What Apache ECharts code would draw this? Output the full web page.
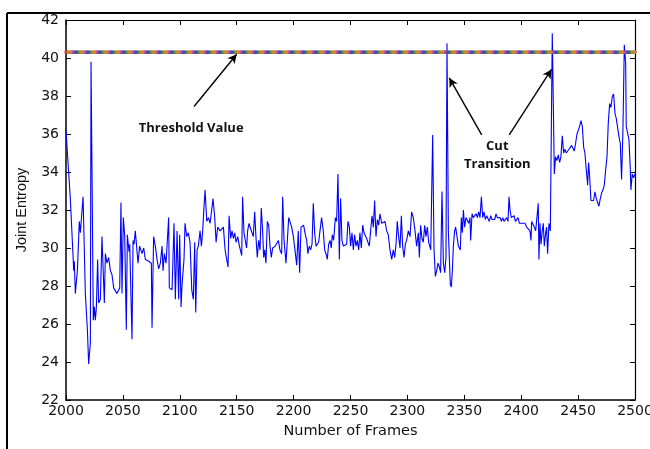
<!DOCTYPE html>
<html>
<head>
<meta charset="utf-8">
<script src="https://cdn.jsdelivr.net/npm/echarts@6/dist/echarts.min.js"></script>
<style>
html,body{margin:0;padding:0;background:#fff;}
#chart{width:650px;height:449px;}
</style>
</head>
<body>
<div id="chart"></div>
<script>
// ---- data ----
const frames = [
2000.0,2003.8,2005.3,2006.8,2007.3,2008.2,2010.0,2011.7,2012.6,2015.0,2017.0,2018.8,2019.9,2021.4,2022.0,2024.0,2024.9,2025.8,2026.7,2027.8,
2028.7,2030.2,2031.6,2033.7,2034.6,2036.0,2037.5,2039.0,2040.4,2041.9,2043.4,2044.8,2046.3,2047.2,2048.3,2049.2,2050.4,2051.6,2053.0,2053.9,
2055.4,2056.0,2058.0,2058.9,2059.8,2060.9,2063.3,2064.7,2066.8,2068.3,2069.7,2072.7,2074.1,2075.0,2075.6,2077.0,2078.5,2080.0,2081.4,2082.9,
2084.4,2085.3,2086.4,2087.9,2089.1,2090.2,2090.8,2093.2,2093.7,2094.9,2096.1,2097.6,2099.0,2099.9,2101.1,
2102.0,2103.7,2104.6,2106.1,2107.5,2109.0,2110.5,2111.9,2113.1,2114.0,2115.2,2116.3,2117.8,2119.0,2120.1,2121.0,2122.2,2123.7,2125.1,2126.6,
2128.0,2129.2,2130.7,2131.9,2133.3,2134.5,2135.4,2136.8,2138.3,2139.8,2141.2,2142.4,2143.3,2144.7,2145.9,2147.1,2148.3,2149.4,2150.9,2152.4,
2152.9,2154.4,2155.2,2156.4,2157.6,2158.7,2159.6,2160.8,2162.3,2163.7,2164.6,2165.8,2166.9,2168.1,2169.3,2170.5,2171.6,2172.8,2173.7,2174.6,
2175.7,2176.9,2178.1,2179.3,2180.4,2181.6,2182.8,2183.9,2185.1,2186.6,2188.0,2189.5,2190.4,2191.6,2193.3,2194.5,2195.7,2196.8,2198.3,2199.8,
2201.2,2202.7,2204.1,2205.3,2206.5,2207.7,2208.8,2210.0,2211.5,2212.6,2213.8,2215.0,2216.2,2217.3,2218.5,2219.7,2220.8,2222.0,2223.2,2224.6,
2226.1,2227.3,2228.5,2229.6,2230.8,2232.0,2233.1,2234.0,2235.2,2236.7,2237.8,2239.0,2240.2,2241.3,2242.5,2243.7,2245.2,2246.6,2247.8,2249.0,
2250.1,2251.3,2252.5,2253.6,2254.8,2256.0,2257.2,2258.3,2259.5,2260.7,2261.9,2263.0,2264.2,2265.4,2266.5,2267.7,2268.9,2270.1,2271.2,2272.4,
2273.6,2274.7,2275.9,2277.4,2278.8,2280.3,2281.8,2283.2,2284.7,2286.2,2287.6,2288.8,2290.0,2291.1,2292.3,2293.5,2294.7,2295.8,2297.0,2298.2,
2299.3,2300.8,2302.3,2303.7,2305.2,2306.7,2308.1,2309.6,2310.5,2311.6,2312.8,2314.0,2315.2,2316.3,2317.5,2318.7,
2320.5,2322.2,2323.4,2324.6,2325.7,2326.9,2328.1,2329.2,2330.4,2331.6,2332.8,2333.9,2334.8,2336.0,2336.9,2337.7,2338.6,2339.5,2340.4,2341.5,
2342.4,2343.6,2344.8,2345.6,2346.5,2347.4,2348.3,2349.2,2350.3,2351.5,2352.7,2353.9,2355.0,2355.6,2356.8,2358.0,2359.1,2360.3,2361.5,2362.6,
2363.8,2365.0,2366.2,2367.3,2368.5,2369.7,2370.8,2372.0,2373.2,2374.4,2375.5,2376.7,2377.9,2379.0,2380.2,2381.4,2382.6,2383.7,2384.9,2386.1,
2387.2,2388.4,2389.3,2390.2,2391.3,2392.5,2393.7,2394.9,2396.0,2397.2,2398.4,2399.5,2400.7,2401.9,
2403.3,2404.8,2406.2,2407.7,2408.6,2409.2,2410.6,2411.5,2412.7,2413.8,2415.0,2415.6,2416.5,2417.4,2418.5,2419.4,2420.3,2421.5,2422.3,2423.2,
2424.4,2425.6,2426.7,2427.3,2429.1,2430.2,2431.4,2432.6,2433.8,2434.9,2436.1,2437.3,2438.4,2439.6,2440.8,2442.0,2443.1,2444.3,2445.5,2446.6,
2447.8,2449.0,2450.2,2451.3,2452.5,2453.7,2454.9,2456.0,2457.2,2458.4,2459.2,2460.1,2461.3,2462.5,2463.6,2464.8,2466.0,2467.2,2468.3,2469.5,
2470.7,2471.8,2473.0,2474.2,2475.4,2476.5,2477.7,2478.9,2480.0,2481.2,2482.4,2483.6,2484.7,2485.9,2487.1,2488.2,2489.4,2490.6,2491.2,2491.8,
2492.3,2493.5,2494.7,2495.9,2496.4,2497.6,2498.8,2500.0
];
const entropy = [
36.2,32.6,32.5,28.8,29.3,27.6,28.8,31.4,30.8,32.7,27.6,25.7,23.9,25.0,39.8,26.2,26.9,26.2,26.9,29.4,
27.1,27.3,30.6,27.1,29.7,29.2,29.5,28.8,28.6,27.9,27.9,27.6,27.7,27.9,32.4,27.6,31.6,30.6,25.7,30.7,
29.8,30.2,25.2,30.4,30.2,30.9,29.2,30.1,29.7,30.0,29.4,29.3,29.4,29.2,25.8,30.6,30.1,29.4,28.9,29.2,
30.1,28.8,29.7,29.2,29.3,31.6,27.9,27.8,27.9,31.3,27.3,30.9,27.3,30.7,26.9,
28.1,29.4,31.3,30.6,30.8,30.3,27.8,27.3,30.3,26.6,29.9,30.1,30.9,30.1,30.9,31.9,33.05,31.4,31.6,31.3,
31.4,32.6,31.6,30.3,31.1,31.1,30.9,31.0,31.1,29.9,29.4,29.0,31.7,30.5,30.9,30.5,30.8,30.3,30.6,30.1,
30.0,29.6,32.7,30.8,30.9,30.0,30.9,31.3,31.0,30.9,30.6,31.9,30.6,29.5,30.4,29.9,32.1,30.9,29.5,29.9,
29.2,31.4,31.2,30.1,29.5,30.0,29.9,30.1,30.0,30.4,29.9,29.7,32.7,30.4,29.2,29.1,31.6,31.7,31.1,30.6,
29.9,29.1,30.9,28.7,31.1,31.1,31.2,30.8,30.4,29.7,30.1,29.9,30.2,32.35,30.8,30.1,30.2,30.3,30.3,31.6,
30.9,29.9,29.7,29.4,30.2,30.4,30.0,30.7,30.4,31.6,31.4,33.9,29.4,32.6,30.4,30.1,30.2,30.2,31.4,31.1,
30.1,30.8,29.9,30.7,30.1,30.4,29.9,30.8,30.0,31.2,30.8,30.9,30.5,30.5,30.1,30.9,31.7,31.1,32.5,30.6,
31.5,31.2,31.8,31.3,31.2,31.4,30.9,30.7,29.9,29.4,29.9,29.5,30.2,31.4,30.6,30.0,31.7,30.1,29.5,30.2,
30.4,30.9,30.6,31.9,31.6,30.9,30.1,30.8,29.5,31.2,30.5,30.3,31.2,30.6,31.1,30.3,
29.9,35.95,29.9,28.5,28.8,29.2,29.0,28.7,32.97,29.2,28.7,29.5,40.77,30.9,29.4,28.1,27.95,28.8,30.1,30.9,
31.1,30.6,30.1,30.2,29.9,31.6,30.8,32.0,31.1,31.6,31.5,31.3,31.6,30.4,31.8,31.6,31.5,31.8,31.6,31.9,
31.6,32.7,31.6,31.9,31.5,31.7,31.6,31.4,31.7,31.5,31.6,31.5,31.8,31.6,31.5,31.6,31.4,31.6,31.4,31.5,
31.6,31.4,32.7,32.0,31.6,31.5,31.7,31.4,31.5,31.6,31.3,31.4,31.3,31.2,
31.3,31.1,31.2,30.9,30.4,31.4,31.5,31.1,30.9,30.9,32.35,29.4,31.3,30.2,30.9,31.3,30.1,30.8,31.1,29.7,
31.3,30.9,30.8,41.3,33.9,34.8,34.6,34.9,34.5,34.8,35.9,35.0,35.2,35.0,35.1,35.2,35.3,35.4,35.3,35.1,
35.5,36.0,36.2,36.4,36.7,36.4,35.3,35.0,34.1,33.3,34.5,33.8,32.5,32.6,32.5,32.96,32.6,32.5,32.2,32.6,
32.9,33.05,33.3,34.1,34.8,36.56,37.6,37.4,37.96,38.1,37.1,36.8,36.7,35.86,35.5,33.6,36.2,40.7,40.6,39.7,
36.4,36.3,35.7,34.1,33.05,33.9,33.7,33.9
];
const thresholdFrames = [2000, 2500];
const thresholdValue = 40.3;
const xMin = 2000, xMax = 2500, xStep = 50;
const yMin = 22, yMax = 42, yStep = 2;
const xAxisTitle = 'Number of Frames';
const yAxisTitle = 'Joint Entropy';
// annotation anchors (data space)
const annotationLabels = ['Threshold Value', 'Cut', 'Transition'];
const annotationFrames = [2110, 2379, 2379];
const annotationValues = [36.3, 35.35, 34.4];
// arrows: start frame/value -> end frame/value
const arrowFrom = [[2112.5, 37.45], [2365.3, 35.95], [2389.5, 35.95]];
const arrowTo = [[2150, 40.2], [2336.8, 38.95], [2426.6, 39.4]];

const dotColors = ['#d03a3a', '#3a8a3a', '#3048c0', '#b040b0', '#c08a2a'];

const chart = echarts.init(document.getElementById('chart'), null, {renderer: 'canvas'});

const mainData = frames.map((f, i) => [f, entropy[i]]);
const thrData = thresholdFrames.map(f => [f, thresholdValue]);

const series = [];
dotColors.forEach((c, k) => {
  series.push({
    type: 'line', data: thrData, showSymbol: false, silent: true, z: 3,
    lineStyle: {color: c, width: 3.5, type: [2.4, 9.6], dashOffset: k * 2.4, cap: 'round'},
    animation: false
  });
});
series.push({
  type: 'line', data: mainData, showSymbol: false, z: 2,
  lineStyle: {color: '#0000ff', width: 1.1},
  animation: false
});
series.push({
  type: 'line', data: [], z: 5, animation: false,
  markLine: {
    silent: true, animation: false,
    symbol: ['none', 'arrow'], symbolSize: [7, 9],
    lineStyle: {color: '#000', width: 1.4, type: 'solid'},
    label: {show: false},
    data: arrowFrom.map((a, i) => [{coord: a}, {coord: arrowTo[i]}])
  }
});

const tickStyle = {show: true, inside: true, length: 5, lineStyle: {color: '#000', width: 1}};
const plainNum = v => String(v);

chart.setOption({
  animation: false,
  grid: {left: 66, top: 20, right: 15, bottom: 49, containLabel: false, outerBoundsMode: 'none'},
  xAxis: [
    {
      type: 'value', min: xMin, max: xMax, interval: xStep, position: 'bottom',
      name: xAxisTitle, nameLocation: 'middle', nameGap: 24,
      nameTextStyle: {fontFamily: 'DejaVu Sans', fontSize: 14.5, color: '#111'},
      axisLine: {show: true, onZero: false, lineStyle: {color: '#000', width: 1.5}},
      axisTick: tickStyle,
      axisLabel: {fontFamily: 'DejaVu Sans', fontSize: 14, color: '#111', margin: 4, formatter: plainNum, hideOverlap: false},
      splitLine: {show: false}
    },
    {
      type: 'value', min: xMin, max: xMax, interval: xStep, position: 'top',
      axisLine: {show: true, onZero: false, lineStyle: {color: '#000', width: 1.2}},
      axisTick: tickStyle,
      axisLabel: {show: false},
      splitLine: {show: false}
    }
  ],
  yAxis: [
    {
      type: 'value', min: yMin, max: yMax, interval: yStep, position: 'left',
      name: yAxisTitle, nameLocation: 'middle', nameGap: 37, nameRotate: 90,
      nameTextStyle: {fontFamily: 'Liberation Sans', fontSize: 14.5, color: '#111'},
      axisLine: {show: true, onZero: false, lineStyle: {color: '#000', width: 1.5}},
      axisTick: tickStyle,
      axisLabel: {fontFamily: 'DejaVu Sans', fontSize: 14, color: '#111', margin: 7, formatter: plainNum},
      splitLine: {show: false}
    },
    {
      type: 'value', min: yMin, max: yMax, interval: yStep, position: 'right',
      axisLine: {show: true, onZero: false, lineStyle: {color: '#000', width: 1.2}},
      axisTick: tickStyle,
      axisLabel: {show: false},
      splitLine: {show: false}
    }
  ],
  series: series
});

// annotations placed through the chart's own coordinate conversion
const graphics = [
  {type: 'line', shape: {x1: 7, y1: 13, x2: 650, y2: 13}, style: {stroke: '#000', lineWidth: 2}},
  {type: 'line', shape: {x1: 7, y1: 13, x2: 7, y2: 449}, style: {stroke: '#000', lineWidth: 2}}
];
annotationLabels.forEach((t, i) => {
  const p = chart.convertToPixel({xAxisIndex: 0, yAxisIndex: 0}, [annotationFrames[i], annotationValues[i]]);
  graphics.push({
    type: 'text', x: p[0], y: p[1], z: 10,
    style: {text: t, fontFamily: 'Open Sans', fontWeight: 'bold', fontSize: 13, fill: '#111',
            align: 'center', verticalAlign: 'middle'}
  });
});
chart.setOption({graphic: graphics});
</script>
</body>
</html>
